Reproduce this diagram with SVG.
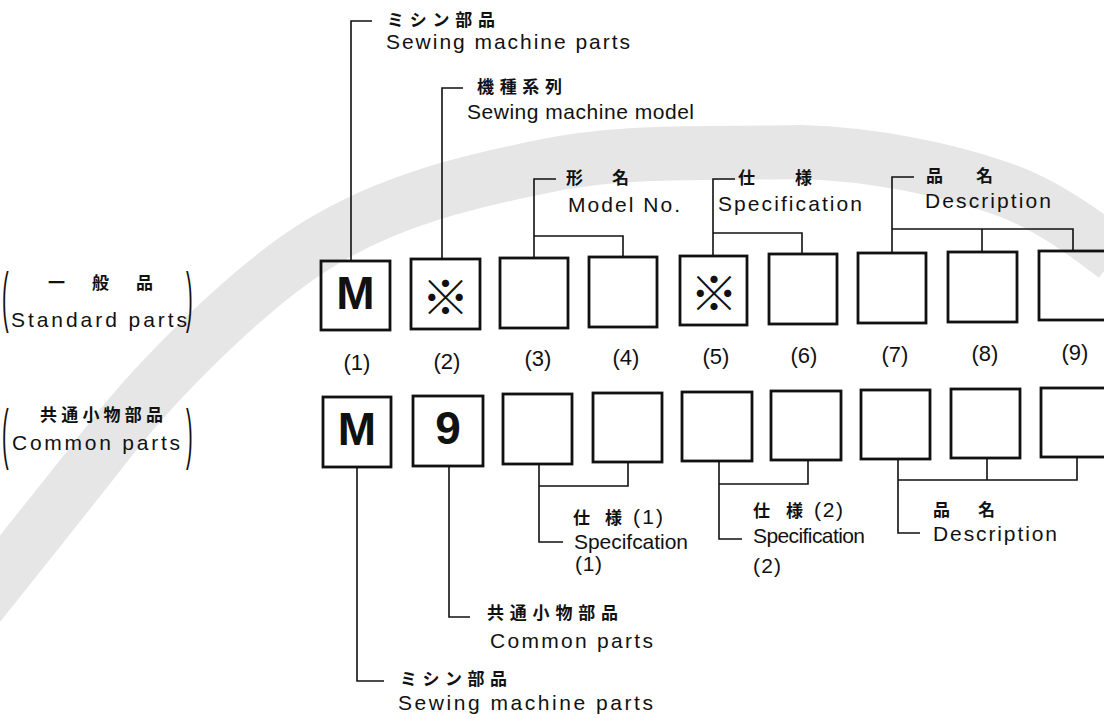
<svg xmlns="http://www.w3.org/2000/svg" width="1104" height="718" viewBox="0 0 1104 718">
<style>
.bx{fill:none;stroke:#111;stroke-width:2.8}
.ln{fill:none;stroke:#111;stroke-width:1.6}
.en{font-family:"Liberation Sans",Arial,sans-serif;font-size:21px;fill:#111}
.jp{font-family:"Noto Sans CJK JP","Noto Sans CJK SC",sans-serif;font-size:17px;font-weight:bold;fill:#111}
.num{font-family:"Liberation Sans",Arial,sans-serif;font-size:22px;fill:#111;text-anchor:middle}
.big{font-family:"Liberation Sans",Arial,sans-serif;font-weight:bold;font-size:46px;fill:#111;text-anchor:middle}
.kome{font-family:"Noto Sans CJK JP","Noto Sans CJK SC",sans-serif;font-size:48px;font-weight:bold;fill:#111;text-anchor:middle;dominant-baseline:central}
.par{font-family:"Liberation Sans",Arial,sans-serif;font-size:20px;fill:#111}
</style>
<rect width="1104" height="718" fill="#fff"/>
<g id="watermark">
<path d="M -25,610 C -2.5,581.7 65.8,496.7 110,440 C 154.2,383.3 244.8,290 317,245 C 389.2,200 469.5,181 550,165 C 630.5,149 725,154 800,152 C 875,154 947.5,170 1000,188 C 1052.5,206 1095.8,242 1115,256" fill="none" stroke="#e6e6e6" stroke-width="54"/>
</g>
<g id="side-labels">
<g id="standard-label">
<text class="par" transform="translate(2,319) scale(1,3.35)">(</text>
<text class="par" transform="translate(186,319) scale(1,3.35)">)</text>
<text class="jp" x="48" y="289" textLength="105">一　般　品</text>
<text class="en" x="11" y="327" textLength="176">Standard parts</text>
</g>
<g id="common-label">
<text class="par" transform="translate(2,456) scale(1,3.35)">(</text>
<text class="par" transform="translate(186,456) scale(1,3.35)">)</text>
<text class="jp" x="40" y="421" textLength="123">共通小物部品</text>
<text class="en" x="12" y="450" textLength="168">Common parts</text>
</g>
</g>
<g id="connectors">
<path class="ln" d="M372,21 H351 V261"/>
<path class="ln" d="M463,88 H442 V259"/>
<path class="ln" d="M556,179 H534 V258 M534,236 H623 V257"/>
<path class="ln" d="M735,179 H713 V256 M713,233 H802 V254"/>
<path class="ln" d="M914,177 H892 V253 M892,229 H1073 V251 M982,229 V252"/>
<path class="ln" d="M357,467 V681 H384"/>
<path class="ln" d="M449,466 V617 H470"/>
<path class="ln" d="M539,464 V542 H563 M539,486 H628 V462"/>
<path class="ln" d="M719,461 V539 H742 M719,484 H808 V460"/>
<path class="ln" d="M898,459 V533 H920 M898,480 H1077 V457 M987,480 V458"/>
</g>
<g id="top-row">
<g id="t1"><rect class="bx" x="321" y="261" width="69" height="69"/><text class="big" x="355.5" y="309">M</text></g>
<g id="t2"><rect class="bx" x="411" y="259" width="69" height="70"/><text class="kome" x="445.5" y="294">※</text></g>
<g id="t3"><rect class="bx" x="500" y="258" width="68" height="70"/></g>
<g id="t4"><rect class="bx" x="589" y="257" width="68" height="70"/></g>
<g id="t5"><rect class="bx" x="680" y="256" width="67" height="69"/><text class="kome" x="714" y="290">※</text></g>
<g id="t6"><rect class="bx" x="769" y="254" width="68" height="70"/></g>
<g id="t7"><rect class="bx" x="858" y="253" width="68" height="70"/></g>
<g id="t8"><rect class="bx" x="948" y="252" width="69" height="70"/></g>
<g id="t9"><rect class="bx" x="1039" y="251" width="68" height="69"/></g>
</g>
<g id="numbers">
<text class="num" x="357" y="370">(1)</text>
<text class="num" x="447" y="369">(2)</text>
<text class="num" x="538" y="366">(3)</text>
<text class="num" x="626" y="365">(4)</text>
<text class="num" x="716" y="364">(5)</text>
<text class="num" x="804" y="363">(6)</text>
<text class="num" x="895" y="362">(7)</text>
<text class="num" x="985" y="361">(8)</text>
<text class="num" x="1075" y="360">(9)</text>
</g>
<g id="bottom-row">
<g id="b1"><rect class="bx" x="323" y="397" width="68" height="70"/><text class="big" x="357" y="445">M</text></g>
<g id="b2"><rect class="bx" x="413" y="396" width="70" height="70"/><text class="big" x="448" y="444">9</text></g>
<g id="b3"><rect class="bx" x="503" y="394" width="69" height="70"/></g>
<g id="b4"><rect class="bx" x="593" y="393" width="69" height="69"/></g>
<g id="b5"><rect class="bx" x="682" y="392" width="70" height="69"/></g>
<g id="b6"><rect class="bx" x="771" y="391" width="70" height="69"/></g>
<g id="b7"><rect class="bx" x="861" y="390" width="69" height="69"/></g>
<g id="b8"><rect class="bx" x="951" y="389" width="69" height="69"/></g>
<g id="b9"><rect class="bx" x="1041" y="388" width="68" height="69"/></g>
</g>
<g id="top-labels">
<g id="lbl-machine-parts"><text class="jp" x="387" y="26" textLength="108">ミシン部品</text><text class="en" x="386" y="49" textLength="244">Sewing machine parts</text></g>
<g id="lbl-model"><text class="jp" x="477" y="93" textLength="85">機種系列</text><text class="en" x="467" y="119" textLength="227">Sewing machine model</text></g>
<g id="lbl-modelno"><text class="jp" x="566" y="184" textLength="63">形　名</text><text class="en" x="568" y="212" textLength="112">Model No.</text></g>
<g id="lbl-spec"><text class="jp" x="738" y="184" textLength="74">仕　様</text><text class="en" x="718" y="211" textLength="144">Specification</text></g>
<g id="lbl-desc"><text class="jp" x="926" y="182" textLength="67">品　名</text><text class="en" x="925" y="208" textLength="126">Description</text></g>
</g>
<g id="bottom-labels">
<g id="lbl-spec1"><text class="jp" x="573" y="524" textLength="49">仕　様</text><text class="en" x="633" y="524" textLength="30">(1)</text><text class="en" x="574" y="549" textLength="114">Specifcation</text><text class="en" x="575" y="571" textLength="27">(1)</text></g>
<g id="lbl-spec2"><text class="jp" x="753" y="517" textLength="50">仕　様</text><text class="en" x="814" y="517" textLength="29">(2)</text><text class="en" x="753" y="543" textLength="112">Specification</text><text class="en" x="753" y="573" textLength="28">(2)</text></g>
<g id="lbl-desc2"><text class="jp" x="933" y="516" textLength="62">品　名</text><text class="en" x="933" y="541" textLength="124">Description</text></g>
<g id="lbl-common"><text class="jp" x="487" y="619" textLength="131">共通小物部品</text><text class="en" x="490" y="648" textLength="163">Common parts</text></g>
<g id="lbl-machine2"><text class="jp" x="400" y="685" textLength="107">ミシン部品</text><text class="en" x="398" y="710" textLength="255">Sewing machine parts</text></g>
</g>
</svg>
